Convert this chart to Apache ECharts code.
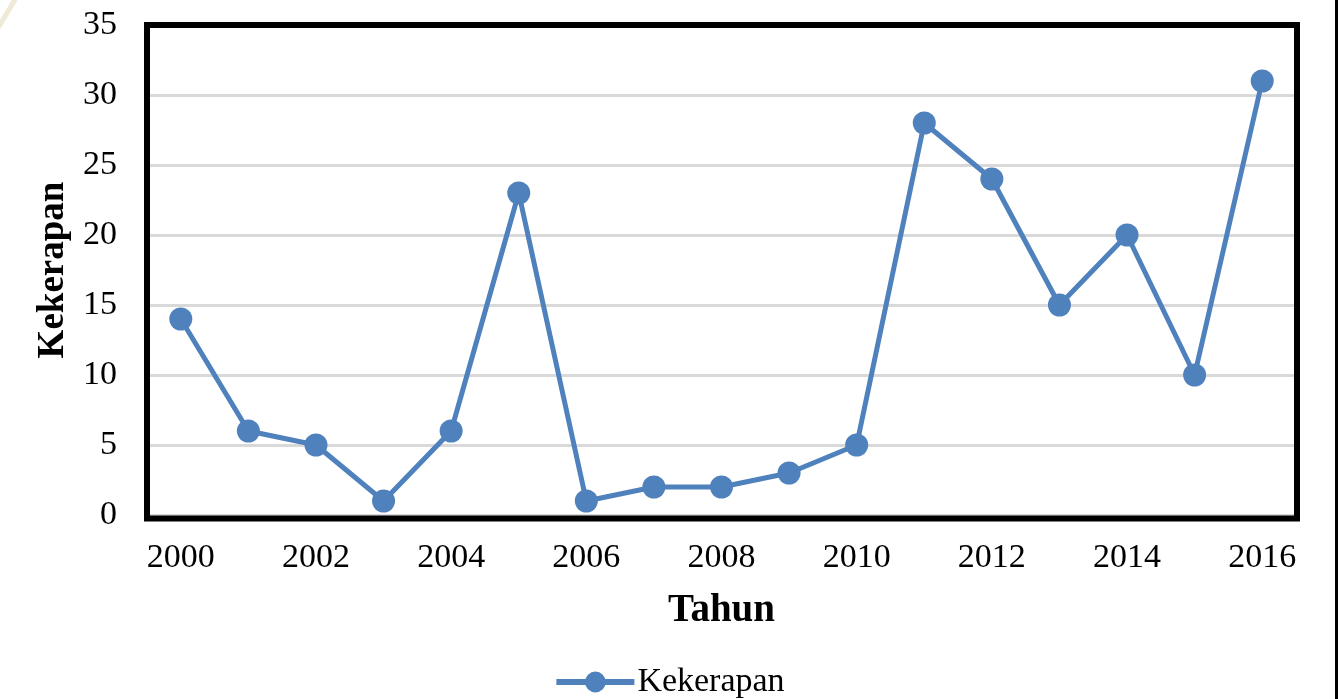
<!DOCTYPE html>
<html>
<head>
<meta charset="utf-8">
<title>Kekerapan</title>
<script src="https://cdn.jsdelivr.net/npm/echarts@6/dist/echarts.min.js"></script>
<style>
  html, body { margin: 0; padding: 0; background: #ffffff; }
  #chart { width: 1338px; height: 699px; }
</style>
</head>
<body>
<div id="chart"></div>
<script>
// Yearly frequency data
const years = ['2000', '2001', '2002', '2003', '2004', '2005', '2006', '2007', '2008',
               '2009', '2010', '2011', '2012', '2013', '2014', '2015', '2016'];
const kekerapan = [14, 6, 5, 1, 6, 23, 1, 2, 2, 3, 5, 28, 24, 15, 20, 10, 31];
const seriesName = 'Kekerapan';
const xTitle = 'Tahun';
const yTitle = 'Kekerapan';

// Layout of the plotting rectangle
const W = 1338, H = 699;
const GL = 147, GR = 42, GT = 25, GB = 184;
const GW = W - GL - GR, GH = H - GT - GB;

const serif = '"Liberation Serif", "Times New Roman", serif';
const lineColor = '#4F81BD';

const chart = echarts.init(document.getElementById('chart'), null, { renderer: 'canvas' });

chart.setOption({
  backgroundColor: '#ffffff',
  animation: false,
  grid: { left: GL, right: GR, top: GT, bottom: GB, containLabel: false },
  legend: {
    data: [seriesName],
    left: 'center',
    top: 660,
    itemWidth: 78,
    itemHeight: 26,
    itemGap: 10,
    lineStyle: { width: 6, color: lineColor },
    itemStyle: { color: lineColor },
    textStyle: { fontFamily: serif, fontSize: 34, color: '#000000', padding: [0, 0, 0, -2] }
  },
  xAxis: {
    type: 'category',
    data: years,
    boundaryGap: true,
    name: xTitle,
    nameLocation: 'middle',
    nameGap: 76,
    nameTextStyle: { fontFamily: serif, fontSize: 39, fontWeight: 'bold', color: '#000000' },
    axisLine: { show: false },
    axisTick: { show: false },
    axisLabel: {
      interval: 1,
      margin: 26,
      fontFamily: serif,
      fontSize: 34,
      color: '#000000'
    },
    splitLine: { show: false }
  },
  yAxis: {
    type: 'value',
    min: 0,
    max: 35,
    interval: 5,
    name: yTitle,
    nameLocation: 'middle',
    nameGap: 69,
    nameRotate: 90,
    nameTextStyle: { fontFamily: serif, fontSize: 37, fontWeight: 'bold', color: '#000000' },
    axisLine: { show: false },
    axisTick: { show: false },
    axisLabel: {
      margin: 30,
      fontFamily: serif,
      fontSize: 34,
      color: '#000000'
    },
    splitLine: { show: true, lineStyle: { color: '#d9d9d9', width: 3 } }
  },
  series: [{
    name: seriesName,
    type: 'line',
    data: kekerapan,
    symbol: 'circle',
    symbolSize: 23,
    z: 5,
    lineStyle: { color: lineColor, width: 5 },
    itemStyle: { color: lineColor }
  }],
  graphic: [
    // black frame around the plotting area
    {
      type: 'rect',
      z: 3,
      silent: true,
      shape: { x: GL, y: GT, width: GW + 1, height: GH + 3.5 },
      style: { fill: null, stroke: '#000000', lineWidth: 6 }
    },
    // thin dark edge on the right of the page
    {
      type: 'line',
      z: 3,
      silent: true,
      shape: { x1: W - 1.5, y1: 0, x2: W - 1.5, y2: H },
      style: { stroke: '#000000', lineWidth: 3 }
    },
    // faint decorative stroke in the top-left corner
    {
      type: 'line',
      z: 1,
      silent: true,
      shape: { x1: -2, y1: 28, x2: 16, y2: -2 },
      style: { stroke: '#efe9d5', lineWidth: 5 }
    }
  ]
});
</script>
</body>
</html>
